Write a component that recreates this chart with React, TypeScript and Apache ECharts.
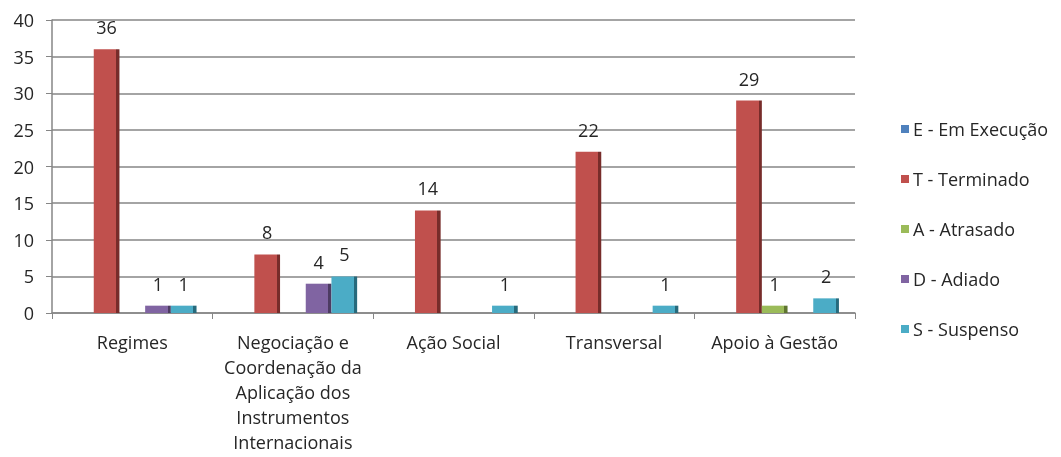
import React, { useEffect, useRef } from "react";
import * as echarts from "echarts";

const categories = [
  "Regimes",
  "Negociação e\nCoordenação da\nAplicação dos\nInstrumentos\nInternacionais",
  "Ação Social",
  "Transversal",
  "Apoio à Gestão",
];
const seriesNames = ["E - Em Execução", "T - Terminado", "A - Atrasado", "D - Adiado", "S - Suspenso"];
const emExecucao = [null, null, null, null, null];
const terminado = [36, 8, 14, 22, 29];
const atrasado = [null, null, null, null, 1];
const adiado = [1, 4, null, null, null];
const suspenso = [1, 5, 1, 1, 2];
const yTicks = [0, 5, 10, 15, 20, 25, 30, 35, 40];

const colors = ["#4F81BD", "#C0504D", "#9BBB59", "#8064A2", "#4BACC6"];
const darkColors = ["#2C4D75", "#772C2A", "#5F7530", "#4D3B62", "#276A7C"];

const FONT = "'Open Sans', sans-serif";

export default function App() {
  const ref = useRef<HTMLDivElement>(null);
  useEffect(() => {
    if (!ref.current) return;
    const chart = echarts.init(ref.current, undefined, { renderer: "svg" });
    const allData = [emExecucao, terminado, atrasado, adiado, suspenso];
    const series = allData.map((d, i) => ({
      name: seriesNames[i],
      type: "bar",
      data: d,
      barGap: "0%",
      barCategoryGap: "20%",
      itemStyle: {
        color: new echarts.graphic.LinearGradient(0, 0, 1, 0, [
          { offset: 0, color: colors[i] },
          { offset: 0.87, color: colors[i] },
          { offset: 0.87, color: darkColors[i] },
          { offset: 1, color: darkColors[i] },
        ]),
      },
      label: {
        show: true,
        position: "top",
        distance: 13,
        color: "#262626",
        fontFamily: FONT,
        fontSize: 18,
      },
    }));
    chart.setOption({
      animation: false,
      textStyle: { fontFamily: FONT },
      grid: {
        left: 52,
        right: 206,
        top: 20,
        bottom: 144,
        containLabel: false,
        outerBoundsMode: "none",
      },
      legend: {
        orient: "vertical",
        left: 896,
        top: 115,
        itemWidth: 8,
        itemHeight: 8,
        itemGap: 32,
        icon: "rect",
        textStyle: { fontFamily: FONT, fontSize: 18, color: "#262626", padding: [0, 0, 0, -1] },
        data: seriesNames.map((n, i) => ({ name: n, itemStyle: { color: colors[i] } })),
      },
      xAxis: {
        type: "category",
        data: categories,
        axisLine: { lineStyle: { color: "#868686", width: 1.5 } },
        axisTick: { show: true, length: 6, lineStyle: { color: "#868686" } },
        axisLabel: {
          color: "#262626",
          fontFamily: FONT,
          fontSize: 18,
          lineHeight: 25,
          margin: 16,
          interval: 0,
        },
      },
      yAxis: {
        type: "value",
        min: 0,
        max: 40,
        interval: 5,
        axisLine: { show: true, lineStyle: { color: "#868686", width: 1.5 } },
        axisTick: { show: true, length: 6, lineStyle: { color: "#868686" } },
        splitLine: { lineStyle: { color: "#868686", width: 1.5 } },
        axisLabel: {
          color: "#262626",
          fontFamily: FONT,
          fontSize: 18,
          margin: 18,
          formatter: (v: number) => (yTicks.includes(v) ? String(v) : ""),
        },
      },
      series,
    });
    return () => chart.dispose();
  }, []);
  return (
    <div
      ref={ref}
      style={{ position: "fixed", left: 0, top: 0, width: 1061, height: 457 }}
    />
  );
}
